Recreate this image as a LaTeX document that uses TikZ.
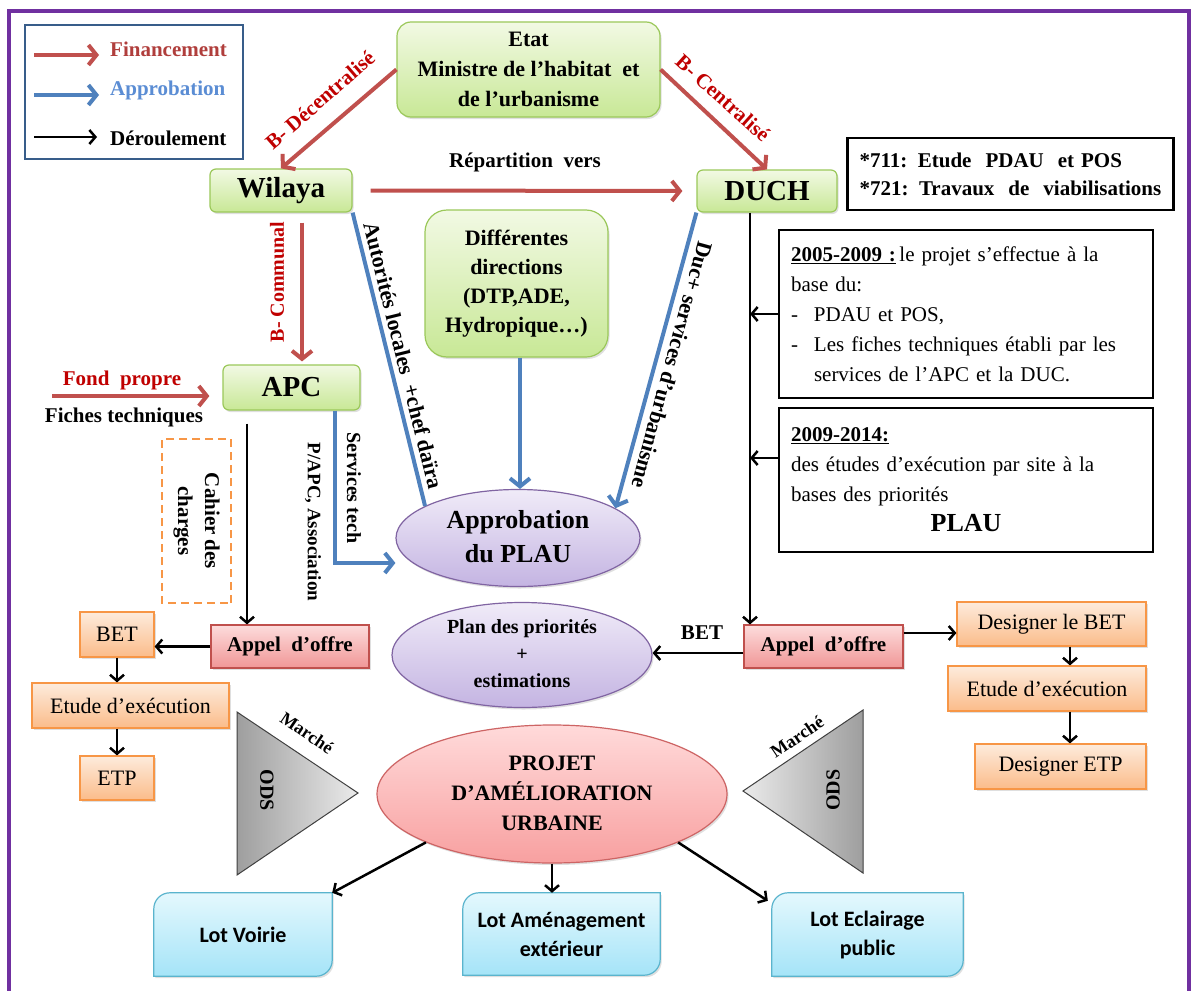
\documentclass[tikz,border=0pt]{standalone}
\usepackage{fontspec}
\setmainfont{Liberation Serif}
\newfontfamily\lotfont{Carlito}
\usetikzlibrary{arrows.meta,shapes.geometric,shadows,backgrounds,calc}
\newcommand\myfz[2]{\fontsize{#1}{#2}\selectfont}
\newcommand\ctext[1]{\smash{\raisebox{-.25em}{\begin{tabular}{@{}c@{}}#1\end{tabular}}}}
\definecolor{finred}{RGB}{192,80,77}
\definecolor{apblue}{RGB}{79,129,189}
\definecolor{dred}{RGB}{192,0,0}
\definecolor{legred}{RGB}{176,62,60}
\definecolor{legblue}{RGB}{91,141,212}
\definecolor{purp}{RGB}{112,48,160}
\definecolor{legborder}{RGB}{56,93,138}
\definecolor{grntop}{RGB}{242,249,228}
\definecolor{grnbot}{RGB}{200,232,150}
\definecolor{grnbd}{RGB}{155,200,90}
\definecolor{ptop}{RGB}{240,235,248}
\definecolor{pbot}{RGB}{196,180,226}
\definecolor{pbd}{RGB}{128,100,162}
\definecolor{rtop}{RGB}{255,218,218}
\definecolor{rbot}{RGB}{248,160,160}
\definecolor{rbd}{RGB}{205,100,100}
\definecolor{atop}{RGB}{253,220,220}
\definecolor{abot}{RGB}{240,150,150}
\definecolor{abd}{RGB}{192,80,77}
\definecolor{otop}{RGB}{253,235,220}
\definecolor{obot}{RGB}{251,188,138}
\definecolor{obd}{RGB}{247,150,70}
\definecolor{ltop}{RGB}{228,248,253}
\definecolor{lbot}{RGB}{165,228,248}
\definecolor{lbd}{RGB}{90,180,205}
\begin{document}
\begin{tikzpicture}[x=1pt,y=-1pt,
  fin/.style={draw=finred,line width=4pt,-{Straight Barb[length=8pt,width=20pt]}},
  appr/.style={draw=apblue,line width=4pt,-{Straight Barb[length=8pt,width=20pt]}},
  appline/.style={draw=apblue,line width=4pt},
  der/.style={draw=black,line width=2.5pt,-{Straight Barb[length=6pt,width=14pt]}},
  shad/.style={drop shadow={shadow xshift=1.5pt,shadow yshift=-2pt,opacity=0.25}},
  greenbox/.style={shad,draw=grnbd,line width=1.2pt,rounded corners=6pt,top color=grntop,bottom color=grnbot,inner sep=2pt,align=center},
  bigtxt/.style={font=\bfseries\myfz{29}{32}},
  ellbox/.style={shad,ellipse,draw=pbd,line width=1.2pt,top color=ptop,bottom color=pbot,inner sep=0pt},
  projbox/.style={shad,ellipse,draw=rbd,line width=1.2pt,top color=rtop,bottom color=rbot,inner sep=0pt},
  appelbox/.style={shad,draw=abd,line width=1.2pt,top color=atop,bottom color=abot,font=\bfseries\myfz{21}{24}},
  orbox/.style={shad,draw=obd,line width=1.2pt,top color=otop,bottom color=obot,font=\myfz{22}{24}},
  lotnode/.style={font=\lotfont\bfseries\myfz{22}{29},align=center},
  lotshape/.style={shad,draw=lbd,line width=1.2pt,top color=ltop,bottom color=lbot},
  txtbox/.style={draw=black,line width=2.5pt,fill=white,inner xsep=12pt,align=left},
  lbl/.style={font=\bfseries\myfz{21}{24},inner sep=0pt},
  tri/.style={draw=black!75,line width=1pt}
]
\useasboundingbox (0,0) rectangle (1193,990);
\begin{scope}[on background layer]
\fill[white] (0,0) rectangle (1193,990);
\end{scope}
\draw[purp,line width=4pt] (9,11) rectangle (1189,1010);

% legend
\node[draw=legborder,line width=2pt,minimum width=218pt,minimum height=134pt] (legend) at (134,92) {};
\coordinate (l1a) at (34,55); \coordinate (l1b) at (99,55);
\coordinate (l2a) at (34,95); \coordinate (l2b) at (99,95);
\coordinate (l3a) at (34,137); \coordinate (l3b) at (97,137);
\draw[fin] (l1a) -- (l1b);
\draw[appr] (l2a) -- (l2b);
\draw[der] (l3a) -- (l3b);
\node[lbl,anchor=west,text=legred] (lgF) at (110,49) {Financement};
\node[lbl,anchor=west,text=legblue] (lgA) at (110,90) {Approbation};
\node[lbl,anchor=west] (lgD) at (110,138) {Déroulement};

% main boxes
\node[greenbox,minimum width=263pt,minimum height=95pt,rounded corners=14pt,font=\bfseries\myfz{22}{30}] (etat) at (528.5,69.5) {Etat\\Ministre de l’habitat\ \ et\\de l’urbanisme};
\node[greenbox,bigtxt,minimum width=142pt,minimum height=43pt] (wilaya) at (281,190.5) {Wilaya};
\node[greenbox,bigtxt,minimum width=140pt,minimum height=42pt] (duch) at (767,191) {DUCH};
\node[greenbox,bigtxt,minimum width=137pt,minimum height=45pt] (apc) at (291.5,387.5) {APC};
\node[greenbox,minimum width=183pt,minimum height=147pt,rounded corners=22pt,font=\bfseries\myfz{22}{29}] (diff) at (516.5,283.5) {Différentes\\directions\\(DTP,ADE,\\Hydropique…)};

\node[ellbox,minimum width=244pt,minimum height=97pt,font=\bfseries\myfz{26}{34}] (approb) at (518,538) {\ctext{Approbation\\du PLAU}};
\node[ellbox,minimum width=260pt,minimum height=105pt,font=\bfseries\myfz{20}{27}] (plan) at (522,655) {\ctext{Plan des priorités\\+\\estimations}};
\node[projbox,minimum width=350pt,minimum height=138pt,font=\bfseries\myfz{22}{30}] (projet) at (552,794) {\ctext{PROJET\\D’AMÉLIORATION\\URBAINE}};

\node[appelbox,minimum width=158pt,minimum height=43pt] (appelL) at (290,646.5) {Appel\ \ d’offre};
\node[appelbox,minimum width=159pt,minimum height=43pt] (appelR) at (823.5,646.5) {Appel\ \ d’offre};

\node[orbox,minimum width=74pt,minimum height=45pt] (betL) at (117,634.5) {BET};
\node[orbox,minimum width=197pt,minimum height=45pt] (etudeL) at (130.5,705.5) {Etude d’exécution};
\node[orbox,minimum width=74pt,minimum height=44pt] (etpL) at (117,778) {ETP};
\node[orbox,minimum width=189pt,minimum height=44pt] (desBET) at (1051.5,624) {Designer le BET};
\node[orbox,minimum width=198pt,minimum height=45pt] (etudeR) at (1047,688.5) {Etude d’exécution};
\node[orbox,minimum width=171pt,minimum height=45pt] (desETP) at (1060.5,766.5) {Designer ETP};

% text boxes
\node[txtbox,minimum width=325pt,minimum height=72pt,text width=302pt,font=\bfseries\myfz{21}{28}] (b711) at (1010.5,174) {{*}711: Etude\ \ PDAU\ \ et POS\\{*}721: Travaux\ \ de\ \ viabilisations};
\node[txtbox,minimum width=374pt,minimum height=168pt,text width=350pt,font=\myfz{21}{30}] (boxA) at (966,314) {\underline{\textbf{2005-2009 :}}\,le projet s’effectue à la\\base du:\\-\hspace{16pt}PDAU et POS,\\-\hspace{16pt}Les fiches techniques établi par les\\\hspace{23pt}services de l’APC et la DUC.};
\node[txtbox,minimum width=374pt,minimum height=144pt,text width=350pt,font=\myfz{21}{30}] (boxB) at (966,480) {\underline{\textbf{2009-2014:}}\\des études d’exécution par site à la\\bases des priorités\\\makebox[350pt]{\bfseries\myfz{26}{30}PLAU}};

\node[draw=obd,dashed,dash pattern=on 8pt off 5pt,line width=1.2pt,minimum width=164pt,minimum height=69pt,rotate=-90,align=center,font=\bfseries\myfz{21}{27}] (cahier) at (196.5,521) {Cahier des\\charges};

% lots
\node[lotnode,minimum width=178pt,minimum height=83pt] (lotV) at (243,934.5) {Lot Voirie};
\node[lotnode,minimum width=197pt,minimum height=82pt] (lotA) at (561.5,934) {Lot Aménagement\\extérieur};
\node[lotnode,minimum width=191pt,minimum height=83pt] (lotE) at (867.5,934.5) {Lot Eclairage\\public};
\begin{scope}[on background layer]
\foreach \n in {lotV,lotA,lotE}{
  \path[lotshape] (\n.south west) -- ([yshift=-16pt]\n.north west) arc[start angle=180,end angle=90,radius=16pt] -- (\n.north east) -- ([yshift=16pt]\n.south east) arc[start angle=0,end angle=-90,radius=16pt] -- cycle;
}
\end{scope}

% triangles
\path[tri,left color=black!38,right color=black!8] (237,712) -- (237,875) -- (358,793) -- cycle;
\path[tri,left color=black!8,right color=black!38] (863,710) -- (863,873) -- (743,791) -- cycle;
\node[lbl,font=\bfseries\myfz{18}{20},rotate=-34] (mkL) at (307,733) {Marché};
\node[lbl,font=\bfseries\myfz{18}{20},rotate=34] (mkR) at (797,737) {Marché};
\node[lbl,font=\bfseries\myfz{20}{22},rotate=-90] (odsL) at (267,790) {ODS};
\node[lbl,font=\bfseries\myfz{20}{22},rotate=90] (odsR) at (833,790) {ODS};

% labels
\node[lbl,text=dred,rotate=41] (lbDec) at (320,100) {B- Décentralisé};
\node[lbl,text=dred,rotate=-42] (lbCen) at (723,98) {B- Centralisé};
\node[lbl,text=dred,font=\bfseries\myfz{20}{22},rotate=90] (lbCom) at (277,282) {B- Communal};
\node[lbl] (lbRep) at (525,162) {Répartition\ \ vers};
\node[lbl,text=dred] (lbFond) at (122,380) {Fond\ \ propre};
\node[lbl] (lbFich) at (124,417) {Fiches techniques};
\node[lbl] (lbBET) at (702,633) {BET};
\node[lbl,font=\bfseries\myfz{20}{22},rotate=-90] (lbServ) at (354,488) {Services tech};
\node[lbl,font=\bfseries\myfz{19}{22},rotate=-90] (lbPAPC) at (313,522) {P/APC, Association};

% financement
\draw[fin] (etat.west) -- (wilaya.north);
\draw[fin] (etat.east) -- (duch.north);
\draw[fin] ([xshift=18pt]wilaya.east) -- ([xshift=-14pt]duch.west);
\draw[fin] ([xshift=21pt,yshift=-10pt]wilaya.south) -- ([xshift=10.5pt,yshift=3pt]apc.north);
\coordinate (fp) at (52,396);
\draw[fin] (fp) -- ([xshift=-13pt]fp -| apc.west);

% approbation
\draw[appline] (wilaya.south east) -- node[sloped,above=5pt,lbl,font=\bfseries\myfz{22}{24}] (lbAut) {Autorités locales\ \ +chef daïra} (approb.161);
\draw[appr] (duch.south west) -- node[sloped,allow upside down,above=7pt,lbl,font=\bfseries\myfz{22}{24}] (lbDuc) {Duc+ services d’urbanisme} (approb.17);
\draw[appr] ([xshift=3.5pt]diff.south) -- ([xshift=2pt]approb.north);
\draw[appr] ([xshift=43.5pt]apc.south) |- ([yshift=-25pt]approb.west);

% deroulement
\coordinate (vl) at (750,400);
\draw[der] ([xshift=-17pt]duch.south) -- ([xshift=-73.5pt]appelR.north);
\draw[der] (boxA.west) -- (boxA.west -| vl);
\draw[der] ([yshift=22pt]boxB.west) -- ([yshift=22pt]boxB.west -| vl);
\draw[der] ([xshift=-44.5pt,yshift=-13pt]apc.south) -- ([xshift=-43pt]appelL.north);
\draw[der] (appelL.west) -- (appelL.west -| betL.east);
\draw[der] (betL.south) -- (betL.south |- etudeL.north);
\draw[der] (etudeL.south -| etpL.north) -- (etpL.north);
\draw[der] ([yshift=-6.5pt]appelR.west) -- ([yshift=-6.5pt]appelR.west -| plan.east);
\draw[der] ([yshift=13.5pt]appelR.east) -- ([yshift=13.5pt]appelR.east -| desBET.west);
\draw[der] ([xshift=18.5pt]desBET.south) -- ([xshift=23pt]etudeR.north);
\draw[der] ([xshift=23pt]etudeR.south) -- ([xshift=9.5pt]desETP.north);
\draw[der] (projet.201) -- (lotV.north east);
\draw[der] (projet.south) -- (projet.south |- lotA.north);
\draw[der] (projet.-21.6) -- ([xshift=-4pt,yshift=-8pt]lotE.north west);
\end{tikzpicture}
\end{document}
